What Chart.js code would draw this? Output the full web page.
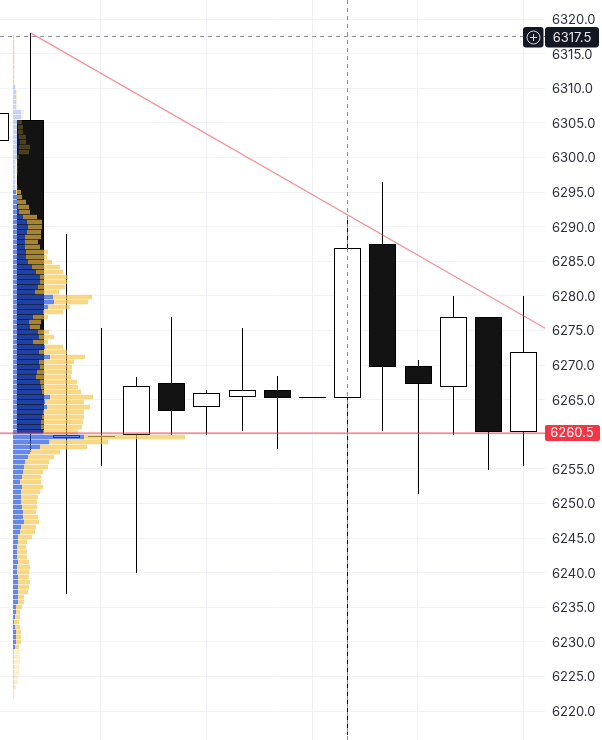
<!DOCTYPE html>
<html>
<head>
<meta charset="utf-8">
<title>Candles with volume profile</title>
<script src="https://cdn.jsdelivr.net/npm/chart.js@4"></script>
<style>
  html, body { margin: 0; padding: 0; background: #fff; }
  canvas { display: block; }
</style>
</head>
<body>
<canvas id="chart" width="602" height="740"></canvas>
<script>
// candles (index -1 is the one cut off by the left edge)
var candleIdx = [-1, 0, 1, 2, 3, 4, 5, 6, 7, 8, 9, 10, 11, 12, 13, 14];
var opens  = [6302.4, 6305.4, 6259.4, 6259.6, 6259.9, 6267.4, 6263.9, 6265.4, 6266.4, 6265.2, 6265.3, 6287.5, 6269.9, 6266.8, 6276.9, 6260.3];
var closes = [6306.4, 6260.2, 6259.9, 6259.8, 6267.0, 6263.4, 6266.0, 6266.4, 6265.3, 6265.35, 6286.9, 6269.7, 6267.3, 6276.9, 6260.3, 6271.9];
var highs  = [6306.4, 6318.0, 6288.9, 6275.3, 6268.3, 6276.9, 6266.4, 6275.3, 6268.4, 6265.35, 6291.5, 6296.4, 6270.7, 6280.0, 6276.9, 6280.0];
var lows   = [6302.4, 6257.4, 6236.9, 6255.4, 6240.0, 6259.9, 6259.9, 6260.5, 6257.9, 6265.2, 6216.5, 6260.5, 6251.4, 6259.9, 6254.8, 6255.4];

// volume profile rows, top to bottom
var rowPrices = [
  6317.40, 6316.68, 6315.96, 6315.23, 6314.51, 6313.79, 6313.07, 6312.34,
  6311.62, 6310.90, 6310.18, 6309.45, 6308.73, 6308.01, 6307.29, 6306.56,
  6305.84, 6305.12, 6304.40, 6303.67, 6302.95, 6302.23, 6301.51, 6300.78,
  6300.06, 6299.34, 6298.62, 6297.89, 6297.17, 6296.45, 6295.73, 6295.00,
  6294.28, 6293.56, 6292.84, 6292.11, 6291.39, 6290.67, 6289.95, 6289.22,
  6288.50, 6287.78, 6287.06, 6286.33, 6285.61, 6284.89, 6284.17, 6283.44,
  6282.72, 6282.00, 6281.28, 6280.55, 6279.83, 6279.11, 6278.39, 6277.66,
  6276.94, 6276.22, 6275.50, 6274.77, 6274.05, 6273.33, 6272.61, 6271.88,
  6271.16, 6270.44, 6269.72, 6268.99, 6268.27, 6267.55, 6266.83, 6266.10,
  6265.38, 6264.66, 6263.94, 6263.21, 6262.49, 6261.77, 6261.05, 6260.32,
  6259.60, 6258.88, 6258.16, 6257.43, 6256.71, 6255.99, 6255.27, 6254.54,
  6253.82, 6253.10, 6252.38, 6251.65, 6250.93, 6250.21, 6249.49, 6248.76,
  6248.04, 6247.32, 6246.60, 6245.87, 6245.15, 6244.43, 6243.71, 6242.98,
  6242.26, 6241.54, 6240.82, 6240.09, 6239.37, 6238.65, 6237.93, 6237.20,
  6236.48, 6235.76, 6235.04, 6234.31, 6233.59, 6232.87, 6232.15, 6231.42,
  6230.70, 6229.98, 6229.26, 6228.53, 6227.81, 6227.09, 6226.37, 6225.64,
  6224.92, 6224.20, 6223.48, 6222.75, 6222.03
];
var rowBuy = [
  1, 1, 1, 1, 1, 1, 1, 1, 1, 1, 2, 3, 3, 3, 3, 8,
  8, 4, 5, 5, 6, 7, 6, 6, 4, 2, 2, 2, 2, 2, 2, 3,
  4, 4, 5, 6, 10, 14, 15, 14, 12, 12, 12, 13, 13, 15, 19, 23,
  27, 27, 25, 22, 40, 41, 35, 30, 20, 16, 17, 25, 26, 20, 32, 26,
  37, 26, 27, 24, 23, 27, 28, 29, 37, 32, 34, 30, 29, 28, 28, 30,
  71, 36, 27, 17, 15, 12, 11, 10, 9, 7, 9, 8, 8, 8, 9, 10,
  10, 11, 8, 7, 5, 5, 4, 4, 4, 5, 4, 4, 5, 5, 5, 5,
  5, 5, 3, 3, 2, 1, 2, 3, 3, 3, 2, 1, 1, 1, 1, 1,
  1, 1, 1, 0.5, 0.5
];
var rowSell = [
  0.5, 0.5, 0.5, 0.5, 0.5, 0.5, 0.5, 0.5, 0.5, 0.5, 1, 1, 1, 1, 1.5, 3,
  2, 5, 5, 5, 7, 6, 11, 10, 2, 3, 3, 3, 2, 2, 3, 5,
  5, 9, 11, 11, 14, 15, 14, 14, 16, 13, 15, 22, 21, 24, 28, 27,
  28, 27, 27, 24, 39, 34, 22, 20, 15, 12, 10, 11, 15, 15, 18, 28,
  35, 35, 32, 35, 35, 37, 37, 39, 43, 39, 43, 41, 42, 42, 41, 35,
  101, 59, 47, 30, 26, 24, 24, 20, 19, 21, 21, 19, 17, 16, 15, 13,
  15, 15, 15, 15, 14, 9, 9, 10, 10, 11, 13, 12, 11, 12, 11, 10,
  6, 6, 6, 4, 5, 5, 5, 5, 5, 5, 4, 6, 6, 6, 5, 5,
  4, 4, 2, 1, 0.5
];
var valueAreaHigh = 6295.3;
var valueAreaLow = 6228.8;

// overlays
var gridCandles = [2, 5, 8, 11, 14];
var lastLabel = '6260.5';
var lastLevel = 6260.17;
var crossLabel = '6317.5';
var crossLevel = 6317.47;
var crossCandle = 9.006;
var trendX = [0, 14.62];
var trendY = [6318.0, 6275.3];

var xMin = -0.8665, xMax = 14.616;

var candlePoints = function (a, b) {
    return candleIdx.map(function (c, i) { return { x: c, y: [a[i], b[i]] }; });
};
var inValueArea = function (p) { return p <= valueAreaHigh && p >= valueAreaLow; };

// keeps wicks and bodies on whole pixels so they stay crisp
var snapBars = {
    id: 'snapBars',
    beforeDatasetsDraw: function (chart) {
        chart.getSortedVisibleDatasetMetas().forEach(function (meta) {
            if (meta.type !== 'bar') return;
            meta.data.forEach(function (el) {
                if (!el.horizontal) {
                    el.x = Math.floor(el.x + 0.4) + 0.5;
                    el.y = Math.round(el.y);
                    el.base = Math.round(el.base);
                    if (el.base === el.y) el.base = el.y + 1;
                    el.height = el.base - el.y;
                }
            });
        });
    }
};

var priceTags = {
    id: 'priceTags',
    afterDraw: function (chart) {
        var c = chart.ctx, y = chart.scales.y;
        c.save();
        c.font = '13px Inter, sans-serif';
        c.textBaseline = 'middle';
        c.textAlign = 'center';

        var cy = Math.round(y.getPixelForValue(crossLevel));
        c.fillStyle = '#131722';
        c.beginPath(); c.roundRect(523, cy - 10, 20.5, 20.5, 3); c.fill();
        c.beginPath(); c.roundRect(545, cy - 10, 54, 20.5, 3); c.fill();
        c.fillStyle = '#e8e9ec';
        c.fillText(crossLabel, 572, cy + 1);
        c.strokeStyle = '#d6d7db';
        c.lineWidth = 1;
        c.beginPath(); c.arc(533.5, cy + 0.5, 6.5, 0, Math.PI * 2); c.stroke();
        c.beginPath();
        c.moveTo(530, cy + 0.5); c.lineTo(537, cy + 0.5);
        c.moveTo(533.5, cy - 3); c.lineTo(533.5, cy + 4);
        c.stroke();

        var ly = Math.round(y.getPixelForValue(lastLevel));
        c.fillStyle = '#f23645';
        c.beginPath(); c.roundRect(545, ly - 8, 55, 16, 2); c.fill();
        c.fillStyle = '#ffffff';
        c.fillText(lastLabel, 572, ly + 0.5);
        c.restore();
    }
};

var ctx = document.getElementById('chart').getContext('2d');
var chart = new Chart(ctx, {
    type: 'bar',
    data: {
        datasets: [
            {
                label: 'wicks',
                data: candlePoints(lows, highs),
                backgroundColor: '#000000',
                barThickness: 1,
                inflateAmount: 0,
                grouped: false,
                order: 7
            },
            {
                label: 'bodies',
                data: candlePoints(opens, closes),
                backgroundColor: closes.map(function (v, i) { return v > opens[i] ? '#ffffff' : '#131313'; }),
                borderColor: '#000000',
                borderWidth: 1,
                borderSkipped: false,
                barThickness: 27,
                inflateAmount: 0,
                grouped: false,
                order: 6
            },
            {
                label: 'buy',
                indexAxis: 'y',
                xAxisID: 'vol',
                data: rowPrices.map(function (p, i) { return { y: p, x: [0, rowBuy[i]] }; }),
                backgroundColor: rowPrices.map(function (p) { return inValueArea(p) ? 'rgba(35,85,225,0.7)' : 'rgba(35,85,225,0.26)'; }),
                barThickness: 4.4,
                inflateAmount: 0,
                grouped: false,
                order: 5
            },
            {
                label: 'sell',
                indexAxis: 'y',
                xAxisID: 'vol',
                data: rowPrices.map(function (p, i) { return { y: p, x: [rowBuy[i], rowBuy[i] + rowSell[i]] }; }),
                backgroundColor: rowPrices.map(function (p) { return inValueArea(p) ? 'rgba(245,195,70,0.65)' : 'rgba(245,195,70,0.25)'; }),
                barThickness: 4.4,
                inflateAmount: 0,
                grouped: false,
                order: 4
            },
            {
                type: 'line',
                label: 'last price',
                data: [{ x: xMin, y: lastLevel }, { x: xMax, y: lastLevel }],
                borderColor: 'rgba(242,54,69,0.75)',
                borderWidth: 1.3,
                pointRadius: 0,
                order: 3
            },
            {
                type: 'line',
                label: 'trend',
                data: [{ x: trendX[0], y: trendY[0] }, { x: trendX[1], y: trendY[1] }],
                borderColor: 'rgba(242,54,69,0.55)',
                borderWidth: 1.2,
                pointRadius: 0,
                order: 2
            },
            {
                type: 'line',
                label: 'cross h',
                data: [{ x: xMin, y: crossLevel }, { x: xMax, y: crossLevel }],
                borderColor: '#8c8f99',
                borderWidth: 1,
                borderDash: [4, 4],
                pointRadius: 0,
                order: 1
            },
            {
                type: 'line',
                label: 'cross v',
                data: [{ x: crossCandle, y: 6322.75 }, { x: crossCandle, y: 6215.8 }],
                borderColor: '#8c8f99',
                borderWidth: 1,
                borderDash: [4, 4],
                pointRadius: 0,
                order: 1
            }
        ]
    },
    options: {
        responsive: false,
        devicePixelRatio: 1,
        animation: false,
        layout: { padding: 0 },
        plugins: { legend: { display: false }, tooltip: { enabled: false } },
        scales: {
            x: {
                type: 'linear',
                min: xMin,
                max: xMax,
                offset: false,
                border: { display: false },
                grid: { color: '#eff1f6', drawTicks: false, offset: false },
                ticks: { display: false },
                afterBuildTicks: function (scale) {
                    scale.ticks = gridCandles.map(function (v) { return { value: v }; });
                },
                afterFit: function (scale) { scale.height = 0; scale.paddingLeft = 0; scale.paddingRight = 0; }
            },
            vol: {
                type: 'linear',
                axis: 'x',
                display: false,
                offset: false,
                min: -13,
                max: 532
            },
            y: {
                type: 'linear',
                position: 'right',
                min: 6215.81,
                max: 6322.75,
                offset: false,
                border: { display: false },
                grid: { color: '#f1f3f7', drawTicks: false, offset: false },
                ticks: {
                    stepSize: 5,
                    includeBounds: false,
                    autoSkip: false,
                    align: 'center',
                    padding: 7,
                    labelOffset: 1,
                    color: '#2a2e39',
                    font: { family: 'Inter, sans-serif', size: 13 },
                    callback: function (v) { return v.toFixed(1); }
                },
                afterFit: function (scale) { scale.width = 57; scale.paddingTop = 0; scale.paddingBottom = 0; }
            }
        }
    },
    plugins: [snapBars, priceTags]
});
</script>
</body>
</html>
